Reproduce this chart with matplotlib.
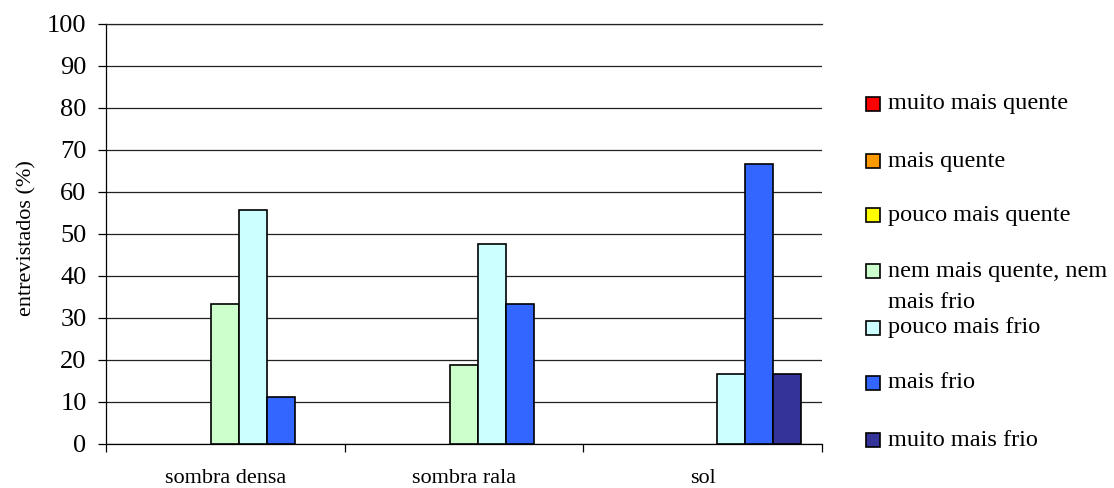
import matplotlib
matplotlib.use("Agg")
import matplotlib.pyplot as plt
import matplotlib.patches as mpatches
import numpy as np

categories = ["sombra densa", "sombra rala", "sol"]
series_labels = ["muito mais quente", "mais quente", "pouco mais quente",
                 "nem mais quente, nem\nmais frio", "pouco mais frio",
                 "mais frio", "muito mais frio"]
series_colors = ["#FF0000", "#FF9900", "#FFFF00", "#CCFFCC", "#CCFFFF",
                 "#3366FF", "#333399"]
# values per series, for [sombra densa, sombra rala, sol]
muito_mais_quente = [0, 0, 0]
mais_quente = [0, 0, 0]
pouco_mais_quente = [0, 0, 0]
nem_nem = [33.3, 18.9, 0]
pouco_mais_frio = [55.6, 47.6, 16.7]
mais_frio = [11.1, 33.3, 66.7]
muito_mais_frio = [0, 0, 16.7]
series_values = [muito_mais_quente, mais_quente, pouco_mais_quente, nem_nem,
                 pouco_mais_frio, mais_frio, muito_mais_frio]
yticks = list(range(0, 101, 10))

W, H = 1114, 488
fig = plt.figure(figsize=(W / 100, H / 100), dpi=100)
ax = fig.add_axes([106 / W, 1 - 444 / H, 716 / W, 420 / H])
plt.rcParams["font.family"] = ["Liberation Serif", "DejaVu Serif"]
FONT = "Liberation Serif"

nser = len(series_values)
bw = 0.1173
x = np.arange(len(categories))
for i, (vals, col) in enumerate(zip(series_values, series_colors)):
    offs = (i - (nser - 1) / 2) * bw
    for xi, v in zip(x, vals):
        if v > 0:
            ax.bar(xi + offs, v, width=bw, color=col, edgecolor="black",
                   linewidth=1.2, zorder=3)

ax.set_xlim(-0.5, len(categories) - 0.5)
ax.set_ylim(0, 100)
ax.set_yticks(yticks)
ax.set_yticklabels([str(t) for t in yticks], fontsize=19, family=FONT)
ax.yaxis.grid(True, color="#222222", linewidth=0.9, zorder=0)
ax.set_axisbelow(True)

ax.set_xticks(x)
ax.set_xticklabels(categories, fontsize=16, family=FONT)
ax.set_xticks(np.arange(-0.5, len(categories), 1.0), minor=True)
ax.tick_params(axis="x", which="major", length=0, pad=18)
ax.tick_params(axis="x", which="minor", length=6, width=0.9, direction="out")
ax.tick_params(axis="y", length=6, width=0.9, pad=8)

for s in ["right"]:
    ax.spines[s].set_visible(False)
ax.spines["top"].set_linewidth(0.9)
ax.spines["top"].set_color("#222222")
ax.spines["left"].set_linewidth(0.9)
ax.spines["bottom"].set_linewidth(0.9)

ax.set_ylabel("entrevistados (%)", fontsize=16, family=FONT)
ax.yaxis.set_label_coords(-0.097, 0.49)

# legend (manual, Excel-like)
leg_y = [104, 161, 215, 271, 328, 383, 440]
for lab, col, yp in zip(series_labels, series_colors, leg_y):
    fig.add_artist(mpatches.Rectangle((866 / W, 1 - (yp + 7) / H), 14 / W, 14 / H,
                                      facecolor=col, edgecolor="black",
                                      linewidth=1.2, transform=fig.transFigure))
    for k, line in enumerate(lab.split("\n")):
        fig.text(888 / W, 1 - (yp + k * 31) / H, line, fontsize=17.5,
                 family=FONT, va="center", ha="left")

fig.savefig("out.png", dpi=100)
